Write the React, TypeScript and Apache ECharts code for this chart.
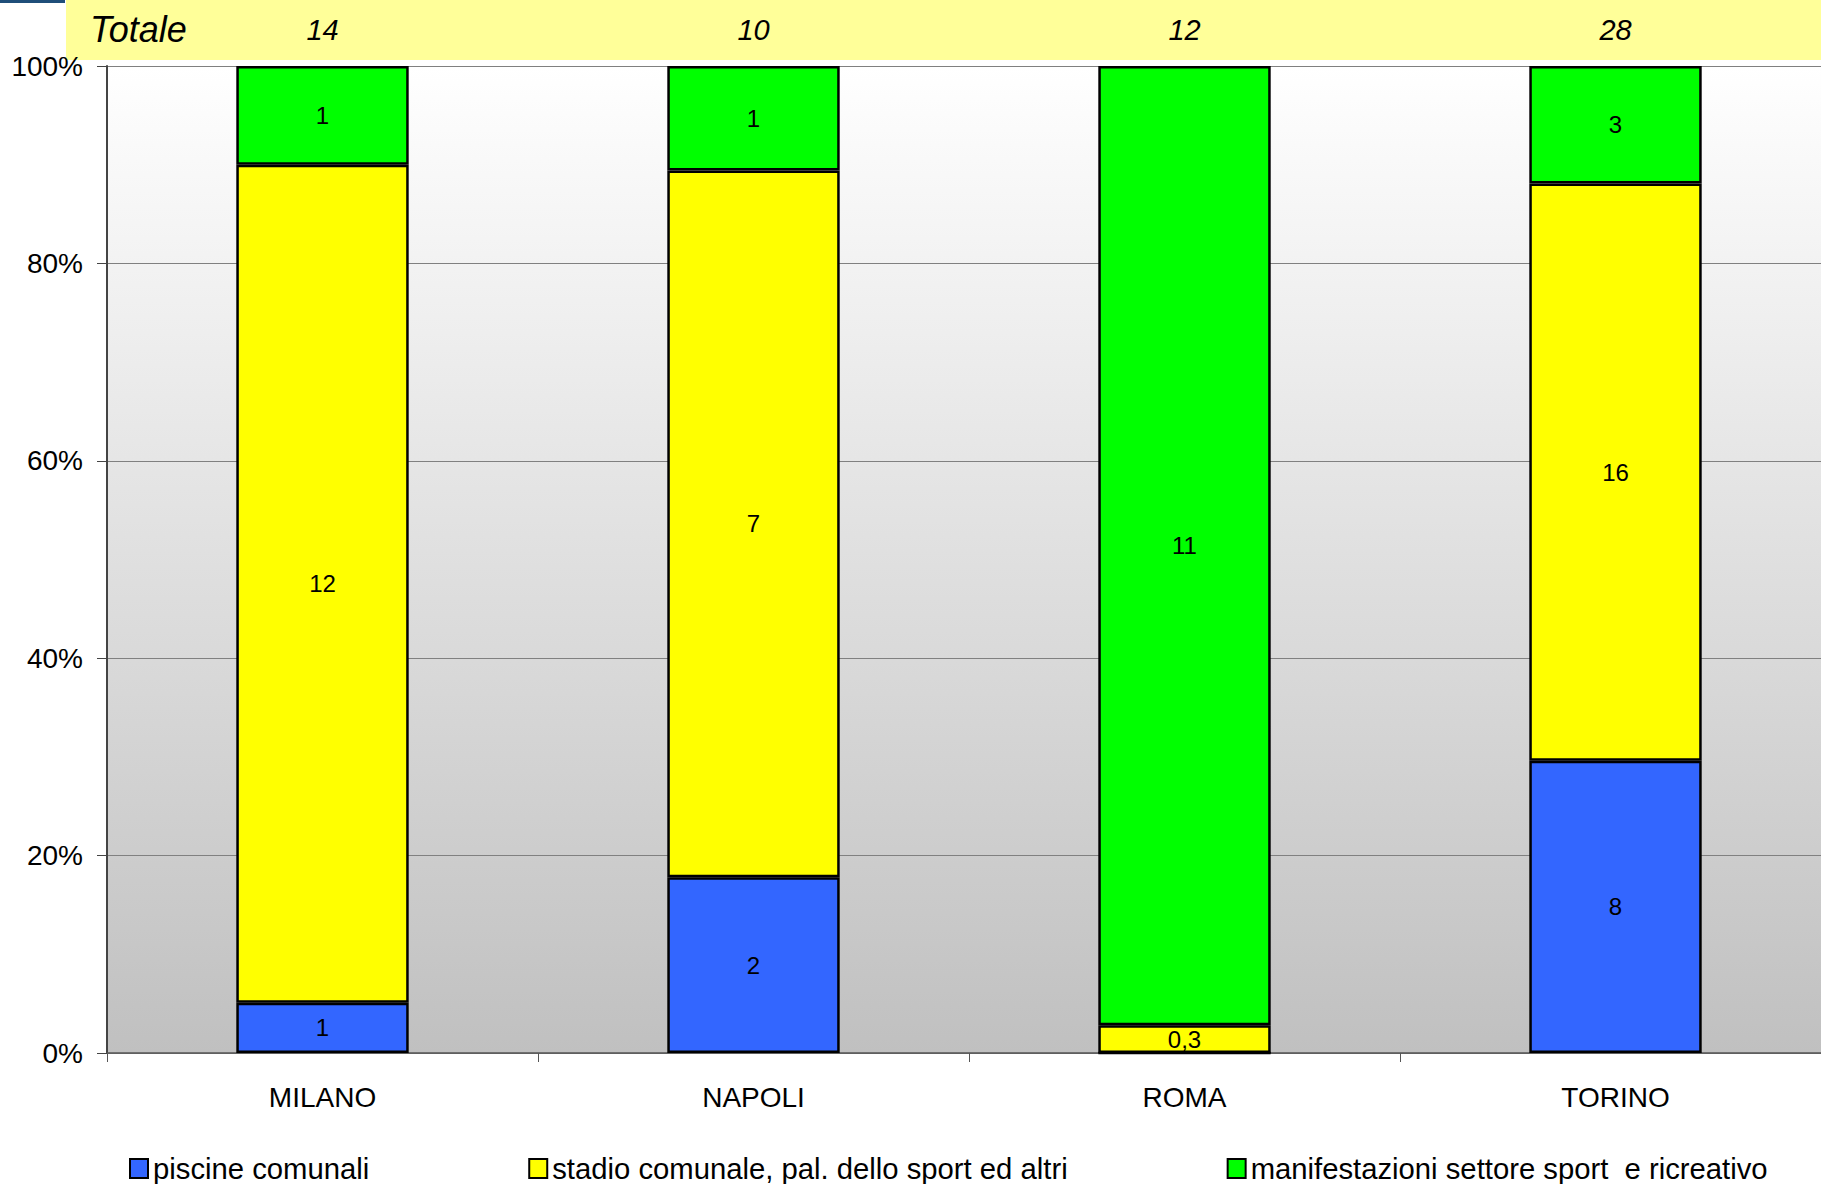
import React, { useEffect, useRef } from "react";
import * as echarts from "echarts";

const categories = ["MILANO", "NAPOLI", "ROMA", "TORINO"];
const totals = ["14", "10", "12", "28"];
const seriesNames = [
  "piscine comunali",
  "stadio comunale, pal. dello sport ed altri",
  "manifestazioni settore sport  e ricreativo",
];
// share of each city's total (%)
const piscinePct = [5.1, 17.8, 0, 29.6];
const stadioPct = [84.9, 71.6, 2.8, 58.5];
const manifestPct = [10.0, 10.6, 97.2, 11.9];
// values written inside the segments
const piscineLabels = ["1", "2", "", "8"];
const stadioLabels = ["12", "7", "0,3", "16"];
const manifestLabels = ["1", "1", "11", "3"];
const yTicks = [0, 20, 40, 60, 80, 100];

const FONT = "'Liberation Sans', Arial, sans-serif";

export default function App() {
  const ref = useRef<HTMLDivElement>(null);
  useEffect(() => {
    const chart = echarts.init(ref.current!, null, { renderer: "svg" });
    const mk = (name: string, data: number[], labels: string[], color: string) => ({
      name,
      type: "bar",
      stack: "total",
      barWidth: "40%",
      data,
      itemStyle: { color, borderColor: "#000", borderWidth: 2.5 },
      label: {
        show: true,
        position: "inside",
        color: "#000",
        fontSize: 24,
        fontFamily: FONT,
        formatter: (p: any) => labels[p.dataIndex],
      },
    });
    chart.setOption({
      animation: false,
      backgroundColor: "#ffffff",
      graphic: [
        { type: "rect", z: -10, shape: { x: 0, y: 0, width: 65, height: 3 }, style: { fill: "#1F4E79" } },
        { type: "rect", z: -10, shape: { x: 66, y: 0, width: 1770, height: 60 }, style: { fill: "#FFFF99" } },
        {
          type: "text",
          x: 90,
          y: 29,
          style: {
            text: "Totale",
            fontSize: 36,
            fontStyle: "italic",
            fontFamily: FONT,
            fill: "#000",
            verticalAlign: "middle",
            textAlign: "left",
          },
        },
      ],
      grid: {
        left: 107,
        top: 66,
        bottom: 131,
        right: 0,
        show: true,
        borderWidth: 0,
        backgroundColor: {
          type: "linear",
          x: 0,
          y: 0,
          x2: 0,
          y2: 1,
          colorStops: [
            { offset: 0, color: "#FFFFFF" },
            { offset: 1, color: "#C0C0C0" },
          ],
        },
      },
      legend: {
        left: 129,
        top: 1154,
        padding: 0,
        itemWidth: 18,
        itemHeight: 19,
        itemGap: 159,
        icon: "rect",
        textStyle: { fontSize: 29.25, fontFamily: FONT, color: "#000", padding: [0, 0, 0, 0] },
        data: seriesNames,
      },
      xAxis: [
        {
          type: "category",
          data: categories,
          position: "bottom",
          axisLine: { lineStyle: { color: "#555", width: 1.5 } },
          axisTick: { show: true, length: 9, lineStyle: { color: "#555" } },
          axisLabel: { fontSize: 28, fontFamily: FONT, color: "#000", margin: 30 },
          splitLine: { show: false },
        },
        {
          type: "category",
          data: totals,
          position: "top",
          axisLine: { show: false },
          axisTick: { show: false },
          axisLabel: { fontSize: 29, fontStyle: "italic", fontFamily: FONT, color: "#000", margin: 22 },
          splitLine: { show: false },
        },
      ],
      yAxis: {
        type: "value",
        min: yTicks[0],
        max: yTicks[yTicks.length - 1],
        interval: 20,
        axisLine: { show: true, lineStyle: { color: "#444", width: 2 } },
        axisTick: { show: true, length: 10, lineStyle: { color: "#444" } },
        axisLabel: { fontSize: 28, fontFamily: FONT, color: "#000", margin: 24, formatter: "{value}%" },
        splitLine: { show: true, lineStyle: { color: "#808080", width: 1 } },
      },
      series: [
        mk(seriesNames[0], piscinePct, piscineLabels, "#3366FF"),
        mk(seriesNames[1], stadioPct, stadioLabels, "#FFFF00"),
        mk(seriesNames[2], manifestPct, manifestLabels, "#00FF00"),
      ],
    });
    return () => chart.dispose();
  }, []);
  return (
    <div
      style={{ position: "absolute", left: 0, top: 0, width: 1821, height: 1184, overflow: "hidden" }}
    >
      <div ref={ref} style={{ width: 1831, height: 1184 }} />
    </div>
  );
}
